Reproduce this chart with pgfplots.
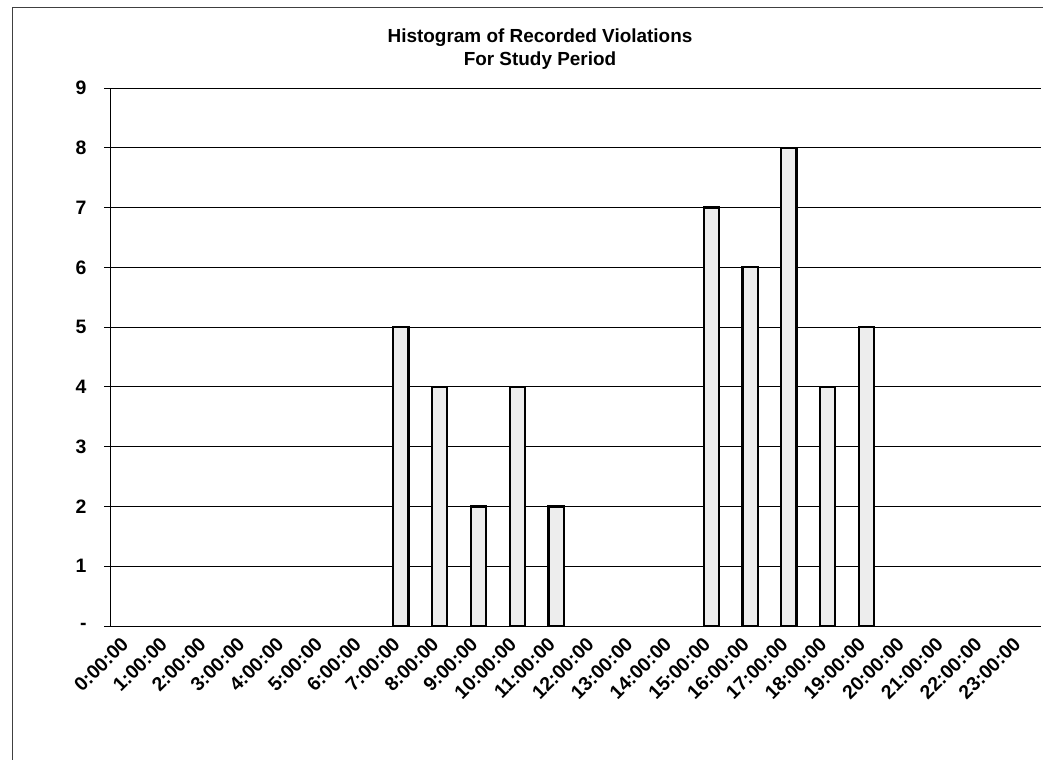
\documentclass[border=0pt]{standalone}
\usepackage{fontspec}
\setmainfont{Liberation Sans}
\usepackage{pgfplots}
\pgfplotsset{compat=1.18}

% Violations recorded per hour of day (hour index, count); hours without
% violations are left out so that no empty bar is drawn
\pgfplotstableread{
hour count
7 5
8 4
9 2
10 4
11 2
15 7
16 6
17 8
18 4
19 5
}\violations

\begin{document}
\begin{tikzpicture}[x=1bp,y=1bp]
  \useasboundingbox (0,0) rectangle (1043,760);
  % chart area frame
  \draw[black!75, line width=1bp] (12,0) -- (12,752) -- (1060,752);

  \node[align=center, font=\bfseries\fontsize{19}{23}\selectfont] at (540,711)
    {Histogram of Recorded Violations\\For Study Period};

  \begin{axis}[
    at={(110bp,134bp)}, anchor=south west,
    scale only axis, width=931bp, height=538bp,
    ymin=0, ymax=9,
    xmin=-0.5, xmax=23.5,
    axis x line*=bottom, axis y line*=left,
    axis line style={black, line width=0.8bp},
    ymajorgrids, grid style={black, line width=0.8bp},
    ytick={0,...,9},
    yticklabels={-,1,2,3,4,5,6,7,8,9},
    xtick={0,...,23},
    xticklabels={0:00:00,1:00:00,2:00:00,3:00:00,4:00:00,5:00:00,6:00:00,7:00:00,8:00:00,9:00:00,10:00:00,11:00:00,12:00:00,13:00:00,14:00:00,15:00:00,16:00:00,17:00:00,18:00:00,19:00:00,20:00:00,21:00:00,22:00:00,23:00:00},
    minor xtick={-0.5,0.5,...,23.5},
    xtick style={draw=none},
    minor x tick style={black, line width=0.8bp},
    y tick style={black, line width=0.8bp},
    tick align=outside,
    major tick length=6bp, minor tick length=6bp,
    tick label style={font=\bfseries\fontsize{19.5}{19.5}\selectfont},
    x tick label style={rotate=45, anchor=east, yshift=-3bp, xshift=-6bp},
    y tick label style={xshift=-14bp},
  ]
    \addplot[ybar, bar width=0.39, draw=black, line width=2.2bp, fill=black!7]
      table[x=hour, y=count] {\violations};
  \end{axis}
\end{tikzpicture}
\end{document}
